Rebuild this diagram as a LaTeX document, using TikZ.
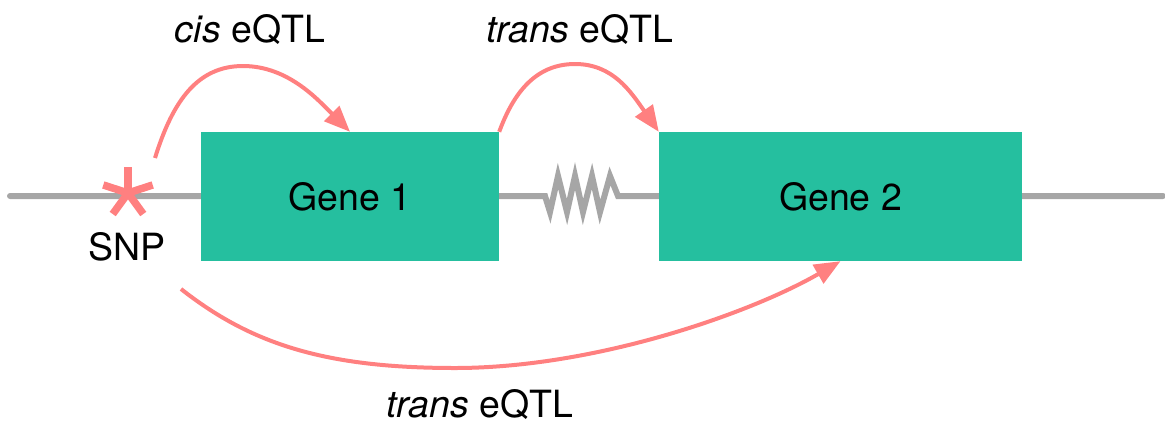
\documentclass[tikz,border=0pt]{standalone}
\usepackage{fontspec}
\setmainfont{TeX Gyre Heros}
\usetikzlibrary{arrows.meta}
\definecolor{genegreen}{RGB}{37,191,159}
\definecolor{linegray}{RGB}{166,166,166}
\definecolor{qtlred}{RGB}{255,128,128}
\begin{document}
\begin{tikzpicture}[x=1pt,y=-1pt,
  genebox/.style={fill=genegreen,draw=none,inner sep=0pt,minimum height=129pt,font=\fontsize{37.5}{44}\selectfont},
  lbl/.style={font=\fontsize{37.5}{44}\selectfont,inner sep=0pt,anchor=base},
  dna/.style={draw=linegray,line width=6pt,line cap=round,line join=miter},
  qtl/.style={draw=qtlred,line width=4pt,-{Triangle[length=26pt,width=21pt]}},
  snpstar/.style={draw=qtlred,line width=7.5pt}]
\useasboundingbox (0,0) rectangle (1165,424);
% DNA strand with spring
\coordinate (l0) at (10,196);
\coordinate (l1) at (1163,196);
\draw[dna] (l0) -- (545,196) -- (550,212) -- (558,176) -- (567,212) -- (575,176) -- (583,212) -- (592,176) -- (600,212) -- (610,176) -- (618,196) -- (l1);
% genes
\node[genebox,minimum width=298pt] (g1) at (350,196.5) {Gene 1};
\node[genebox,minimum width=363pt] (g2) at (840.5,196.5) {Gene 2};
% SNP asterisk
\coordinate (snp) at (128,193);
\foreach \a in {270,198,126,54,342} \draw[snpstar] (snp) -- ++(\a:26);
\node[lbl] (snplbl) at (127,260) {SNP};
% anchor points
\coordinate (s1) at (155,158);
\coordinate (p1) at (243,66);
\coordinate (p2) at (575,64);
\coordinate (s2) at (181,289);
\coordinate (p3) at (455,368);
% arrows
\draw[qtl] (s1) .. controls +(18,-58) and +(-45,0) .. (p1) .. controls +(45,0) and +(-32,-32) .. (g1.north);
\draw[qtl] (g1.north east) .. controls +(14,-38) and +(-40,0) .. (p2) .. controls +(38,0) and +(-28,-40) .. (g2.north west);
\draw[qtl] (s2) .. controls +(70,55) and +(-130,0) .. (p3) .. controls +(140,0) and +(-90,52) .. (g2.south);
% labels
\node[lbl] (l_cis) at (250,42) {\textit{cis} eQTL};
\node[lbl] (l_t1) at (580,42) {\textit{trans} eQTL};
\node[lbl] (l_t2) at (480,417) {\textit{trans} eQTL};
\end{tikzpicture}
\end{document}
